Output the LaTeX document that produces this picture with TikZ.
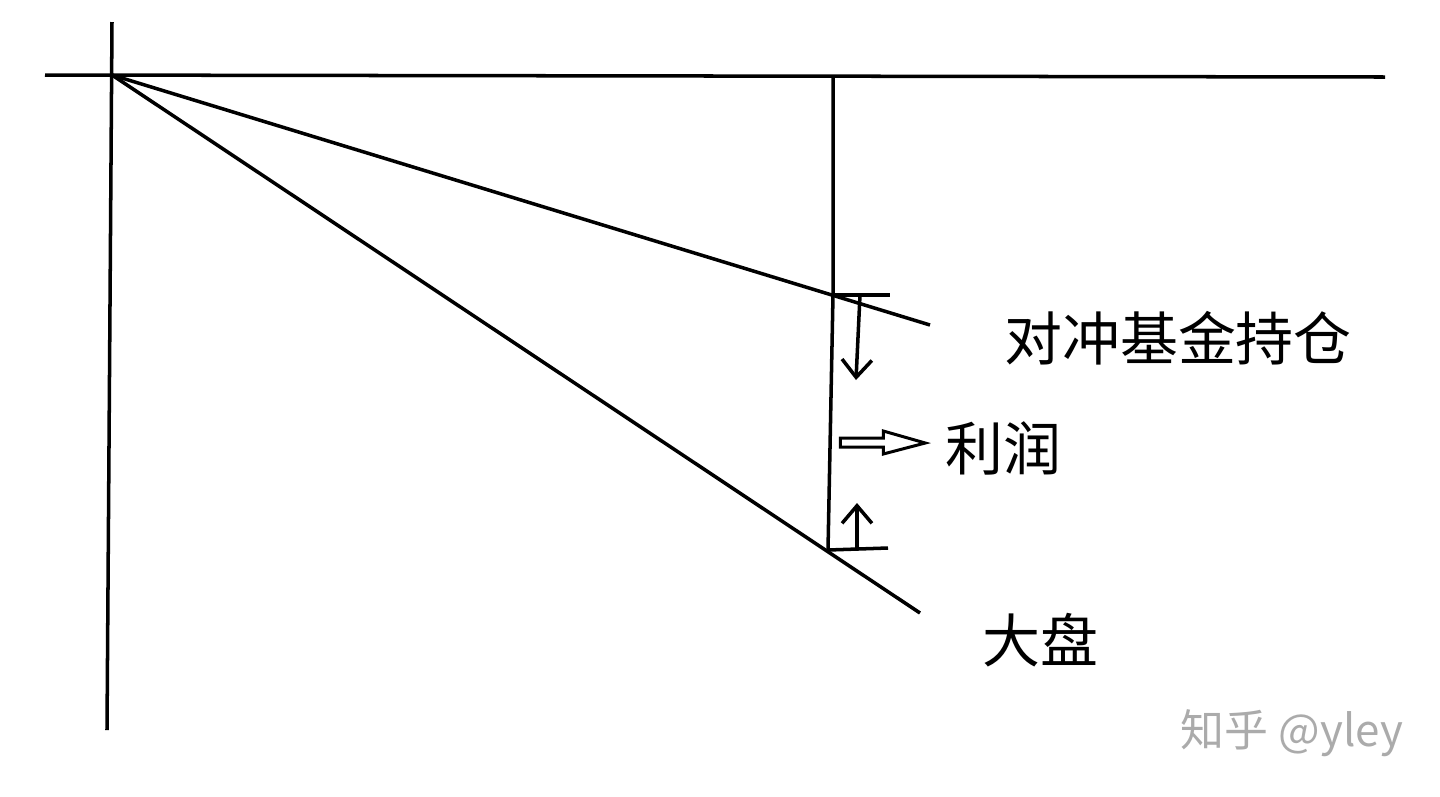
\documentclass[tikz,border=0pt]{standalone}
\usepackage{fontspec}
\newfontfamily\cjk{Noto Sans CJK SC}
\usetikzlibrary{arrows,arrows.meta,positioning}

\begin{document}
\begin{tikzpicture}[x=0.02cm,y=-0.02cm,line width=2pt,
    cntext/.style={font=\cjk\fontsize{33}{36}\selectfont,inner sep=0pt},
    gaparrow/.style={-{Straight Barb[length=10pt,width=17pt]}}]
        \useasboundingbox (0,0) rectangle (1440,796);
        \coordinate (o) at (112,75);
        \coordinate (ytop) at (112,22);
        \coordinate (ybot) at (107,730);
        \coordinate (xleft) at (45,75);
        \coordinate (xright) at (1385,77);
        \coordinate (hedgeend) at (930,325);
        \coordinate (indexend) at (920,613);
        \coordinate (vtop) at (833,77);
        \coordinate (hit) at (833,295);
        \coordinate (lot) at (828,550);
        % axes
        \draw (ytop) -- (ybot);
        \draw (xleft) -- (xright);
        % the two lines
        \draw (o) -- (hedgeend);
        \draw (o) -- (indexend);
        \draw (vtop) -- (hit) -- (lot);
        % gap between them
        \draw (hit) -- +(57,0);
        \draw (lot) -- +(60,-2);
        \draw[gaparrow] ([xshift=0.54cm]hit) -- +(-4,85);
        \draw[gaparrow] ([xshift=0.58cm,yshift=0.04cm]lot) -- +(0,-45);
        \node[cntext] (hedge) at (1178,338) {对冲基金持仓};
        \node[cntext] (profit) at (1003,448) {利润};
        \node[cntext] (index) at (1040,640) {大盘};
        \coordinate (tip) at ([xshift=-0.36cm,yshift=0.1cm]profit.west);
        \draw[line width=1.7pt,line join=miter] (tip) -- +(-42,-12) -- +(-42,-5) -- +(-85,-5)
            -- +(-85,4) -- +(-42,4) -- +(-42,11) -- cycle;
        \node[font=\cjk\fontsize{25}{28}\selectfont,text=black!33] (wm) at (1292,733) {知乎 @yley};
\end{tikzpicture}
\end{document}
